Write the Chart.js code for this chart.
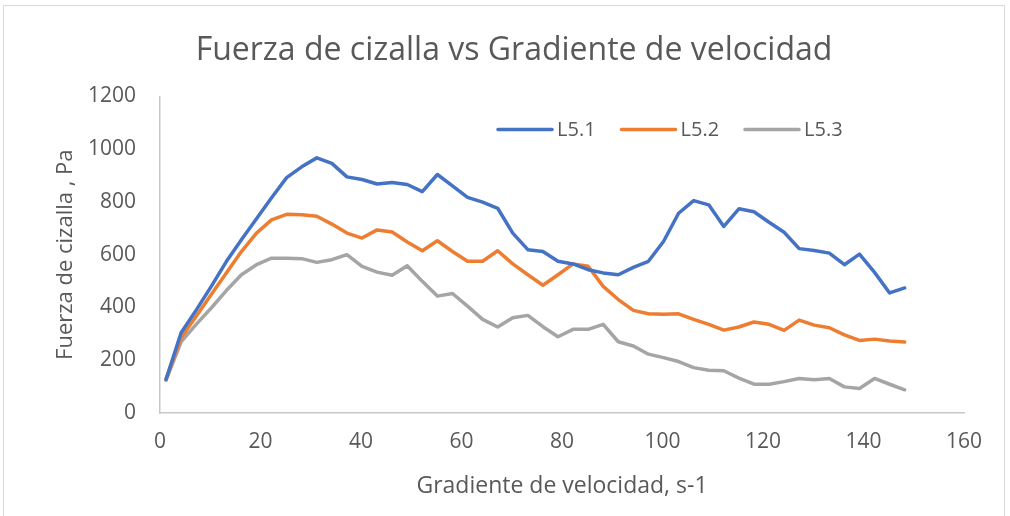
<!DOCTYPE html>
<html>
<head>
<meta charset="utf-8">
<script src="https://cdn.jsdelivr.net/npm/chart.js@4.4.0/dist/chart.umd.min.js"></script>
<style>
  html, body { margin: 0; padding: 0; background: #ffffff; }
  #wrap { position: relative; width: 1010px; height: 516px; overflow: hidden; }
  #frame { position: absolute; left: 3px; top: 5px; width: 1002px; height: 530px; border: 1px solid #d9d9d9; box-sizing: border-box; pointer-events: none; }
  canvas { position: absolute; left: 0; top: 0; }
</style>
</head>
<body>
<div id="wrap">
  <canvas id="c" width="1010" height="516"></canvas>
  <div id="frame"></div>
</div>
<script>
// ---- data ----
const seriesNames = ["L5.1", "L5.2", "L5.3"];
const seriesColors = ["#4472C4", "#ED7D31", "#A5A5A5"];

const shearRate = [1.2, 4.2, 7.2, 10.2, 13.2, 16.2, 19.2, 22.2, 25.2, 28.2,
  31.2, 34.2, 37.2, 40.2, 43.2, 46.2, 49.2, 52.2, 55.2, 58.2,
  61.2, 64.2, 67.2, 70.2, 73.2, 76.2, 79.2, 82.2, 85.2, 88.2,
  91.2, 94.2, 97.2, 100.2, 103.2, 106.2, 109.2, 112.2, 115.2, 118.2,
  121.2, 124.2, 127.2, 130.2, 133.2, 136.2, 139.2, 142.2, 145.2, 148.2];

const l51 = [128, 304, 390, 480, 574, 657, 736, 816, 892, 933,
  967, 946, 895, 885, 868, 874, 866, 839, 904, 861,
  817, 799, 776, 682, 619, 612, 575, 565, 543, 531,
  524, 552, 575, 650, 757, 805, 789, 707, 774, 763,
  723, 685, 623, 616, 606, 562, 602, 533, 455, 474];

const l52 = [128, 285, 367, 449, 531, 612, 682, 732, 753, 751,
  746, 716, 682, 663, 694, 686, 648, 615, 653, 612,
  575, 575, 615, 565, 524, 484, 524, 565, 556, 480,
  430, 389, 376, 374, 376, 355, 336, 314, 326, 345,
  336, 313, 352, 333, 323, 296, 275, 280, 273, 269];

const l53 = [124, 270, 336, 398, 464, 524, 562, 587, 587, 585,
  571, 581, 600, 556, 534, 522, 558, 499, 443, 453,
  405, 355, 326, 361, 370, 327, 289, 317, 317, 336,
  270, 254, 223, 210, 195, 172, 162, 160, 132, 109,
  109, 119, 131, 126, 131, 99, 93, 131, 109, 88];

const xTicks = [0, 20, 40, 60, 80, 100, 120, 140, 160];
const yTicks = [0, 200, 400, 600, 800, 1000, 1200];

const titleText = "Fuerza de cizalla vs Gradiente de velocidad";
const xTitle = "Gradiente de velocidad, s-1";
const yTitle = "Fuerza de cizalla , Pa";

// ---- build ----
const allSeries = [l51, l52, l53];
const datasets = allSeries.map((vals, k) => ({
  label: seriesNames[k],
  data: vals.map((v, i) => ({ x: shearRate[i], y: v })),
  borderColor: seriesColors[k],
  backgroundColor: seriesColors[k],
  borderWidth: 3.5,
  pointRadius: 0,
  tension: 0,
  borderJoinStyle: "round",
  borderCapStyle: "round",
  fill: false
}));

const textColor = "#595959";
const fontFamily = "'Open Sans', 'DejaVu Sans', sans-serif";

// Legend drawn inside plot area (top right), as in the reference
const insideLegend = {
  id: "insideLegend",
  afterDraw(chart) {
    const ctx = chart.ctx;
    const startX = 498, pitch = 123.5, y = 129.5, lineLen = 54;
    ctx.save();
    ctx.font = "20px " + fontFamily;
    ctx.textBaseline = "middle";
    ctx.textAlign = "left";
    chart.data.datasets.forEach((ds, i) => {
      const x0 = startX + i * pitch;
      ctx.strokeStyle = ds.borderColor;
      ctx.lineWidth = 3.5;
      ctx.lineCap = "round";
      ctx.beginPath();
      ctx.moveTo(x0, y);
      ctx.lineTo(x0 + lineLen, y);
      ctx.stroke();
      ctx.fillStyle = textColor;
      ctx.fillText(ds.label, x0 + lineLen + 5, y + 1);
    });
    ctx.restore();
  }
};

new Chart(document.getElementById("c"), {
  type: "line",
  data: { datasets },
  plugins: [insideLegend],
  options: {
    responsive: false,
    animation: false,
    devicePixelRatio: 1,
    layout: { padding: { left: 18, right: 0, top: 0, bottom: 0 } },
    plugins: {
      legend: { display: false },
      tooltip: { enabled: false },
      title: {
        display: true,
        text: titleText,
        color: textColor,
        font: { family: fontFamily, size: 32, weight: "normal" },
        padding: { top: 32, bottom: 26 }
      }
    },
    scales: {
      x: {
        type: "linear",
        min: xTicks[0],
        max: xTicks[xTicks.length - 1],
        afterBuildTicks: (s) => { s.ticks = xTicks.map(v => ({ value: v })); },
        afterFit: (s) => { s.height = 103; },
        grid: { display: false, drawTicks: false },
        border: { display: true, color: "#c8c8c8", width: 1.5 },
        ticks: { color: textColor, font: { family: fontFamily, size: 21 }, padding: 16, maxRotation: 0, callback: (v) => String(v) },
        title: { display: true, text: xTitle, color: textColor, font: { family: fontFamily, size: 23 }, padding: { top: 0, bottom: 16 } }
      },
      y: {
        type: "linear",
        min: yTicks[0],
        max: yTicks[yTicks.length - 1],
        afterBuildTicks: (s) => { s.ticks = yTicks.map(v => ({ value: v })); },
        afterFit: (s) => { s.width = 142; },
        grid: { display: false, drawTicks: false },
        border: { display: true, color: "#c8c8c8", width: 1.5 },
        ticks: { color: textColor, font: { family: fontFamily, size: 21 }, padding: 24, callback: (v) => String(v) },
        title: { display: true, text: yTitle, color: textColor, font: { family: fontFamily, size: 22 }, padding: { top: 35, bottom: 0 } }
      },
      rightSpace: {
        type: "linear",
        position: "right",
        display: true,
        afterFit: (s) => { s.width = 46; },
        grid: { display: false, drawTicks: false },
        border: { display: false },
        ticks: { display: false },
        title: { display: false }
      }
    }
  }
});
</script>
</body>
</html>
